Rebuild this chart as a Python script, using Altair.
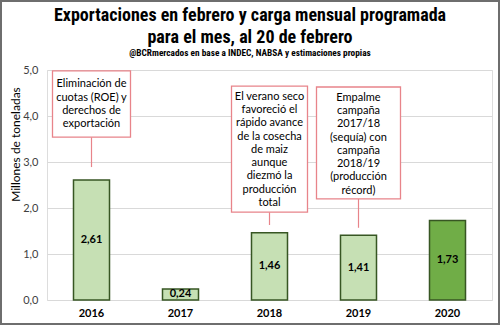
import altair as alt
import pandas as pd

years = ["2016", "2017", "2018", "2019", "2020"]
values = [2.61, 0.24, 1.46, 1.41, 1.73]
labels = ["2,61", "0,24", "1,46", "1,41", "1,73"]
is_current = [False, False, False, False, True]

note_years = ["2016", "2018", "2019"]
note_texts = [
    ["Eliminación de", "cuotas (ROE) y", "derechos de", "exportación"],
    ["El verano seco", "favoreció el", "rápido avance", "de la cosecha", "de maiz", "aunque",
     "diezmó la", "producción", "total"],
    ["Empalme", "campaña", "2017/18", "(sequía) con", "campaña", "2018/19", "(producción", "récord)"],
]
note_top = [4.98, 4.65, 4.63]
note_bottom = [3.54, 1.91, 2.20]
note_text_top = [4.82, 4.55, 4.53]
note_line_end = [2.89, 1.63, 1.57]
note_width = [78, 76, 84]

title_lines = ["Exportaciones en febrero y carga mensual programada", "para el mes, al 20 de febrero"]
subtitle = "@BCRmercados en base a INDEC, NABSA y estimaciones propias"

df = pd.DataFrame({"year": years, "value": values, "label": labels, "current": is_current})
df["mid"] = df["value"] / 2

notes = pd.DataFrame({
    "year": note_years,
    "text": note_texts,
    "top": note_top,
    "bottom": note_bottom,
    "text_top": note_text_top,
    "line_end": note_line_end,
    "w": note_width,
})

BODY = "Lato"
TITLE_FONT = "Roboto Condensed, Liberation Sans Narrow, DejaVu Sans Condensed, Roboto"
x_enc = alt.X("year:N", sort=years, title=None,
              scale=alt.Scale(paddingInner=0, paddingOuter=0),
              axis=alt.Axis(labelAngle=0, labelFontWeight="bold", labelFontSize=11,
                            labelColor="#000000", labelFont=BODY, ticks=False, domain=False,
                            labelPadding=7))
y_scale = alt.Scale(domain=[0, 5])

base = alt.Chart(df)

bars = base.mark_bar(size=36, stroke="#375623", strokeWidth=1.5).encode(
    x=x_enc,
    y=alt.Y("value:Q", scale=y_scale, title="Millones de toneladas",
            axis=alt.Axis(values=[0, 1, 2, 3, 4, 5],
                          labelExpr="replace(format(datum.value, '.1f'), '.', ',')",
                          labelFont=BODY, labelFontSize=11, labelColor="#404040",
                          ticks=False, domain=False, labelPadding=9,
                          gridColor="#D9D9D9", gridWidth=1,
                          titleFont=BODY, titleFontSize=12, titleFontWeight="normal",
                          titleColor="#000000", titleAngle=-90, titleX=-32, titleY=74,
                          titleAlign="center", titleBaseline="middle")),
    color=alt.Color("current:N", scale=alt.Scale(domain=[False, True],
                                                 range=["#C6E0B4", "#70AD47"]), legend=None),
)

bar_text = base.mark_text(font=BODY, fontSize=11, fontWeight="bold", color="#000000",
                          baseline="middle").encode(
    x=alt.X("year:N", sort=years),
    y=alt.Y("mid:Q", scale=y_scale),
    text="label:N",
)

nbase = alt.Chart(notes)
connectors = nbase.mark_rule(color="#E8848A", strokeWidth=1.2).encode(
    x=alt.X("year:N", sort=years),
    y=alt.Y("bottom:Q", scale=y_scale),
    y2="line_end:Q",
)
boxes = nbase.mark_bar(fill="#FFFFFF", stroke="#E8848A", strokeWidth=1.3).encode(
    x=alt.X("year:N", sort=years),
    y=alt.Y("top:Q", scale=y_scale),
    y2="bottom:Q",
    size=alt.Size("w:Q", scale=None, legend=None),
)
box_text = nbase.mark_text(font=BODY, fontSize=11, color="#000000", baseline="top",
                           lineHeight=13.3).encode(
    x=alt.X("year:N", sort=years),
    y=alt.Y("text_top:Q", scale=y_scale),
    text="text",
)

title_df = pd.DataFrame({"t": [title_lines[0]]})
title1 = alt.Chart(title_df).mark_text(font=TITLE_FONT, fontSize=18, fontWeight="bold",
                                       color="#000000", baseline="middle", align="center").encode(
    x=alt.value(203), y=alt.value(-54), text=alt.value(title_lines[0]))
title2 = alt.Chart(title_df).mark_text(font=TITLE_FONT, fontSize=18, fontWeight="bold",
                                       color="#000000", baseline="middle", align="center").encode(
    x=alt.value(203), y=alt.value(-32), text=alt.value(title_lines[1]))
sub = alt.Chart(title_df).mark_text(font=TITLE_FONT, fontSize=9.3, fontWeight="bold",
                                    color="#000000", baseline="middle", align="center").encode(
    x=alt.value(203), y=alt.value(-17), text=alt.value(subtitle))

frame = alt.Chart(title_df).mark_rect(fill=None, stroke="#6E6E6E", strokeWidth=2).encode(
    x=alt.value(-46), x2=alt.value(452), y=alt.value(-69), y2=alt.value(254)
)

chart = alt.layer(bars, bar_text, connectors, boxes, box_text, title1, title2, sub, frame).properties(
    width=445, height=230,
    autosize=alt.AutoSizeParams(type="none"),
    padding={"left": 47, "top": 70, "right": 8, "bottom": 25},
).configure_view(stroke=None).configure(background="#FFFFFF")

chart.save("out.html", embed_options={"renderer": "svg", "actions": False})
